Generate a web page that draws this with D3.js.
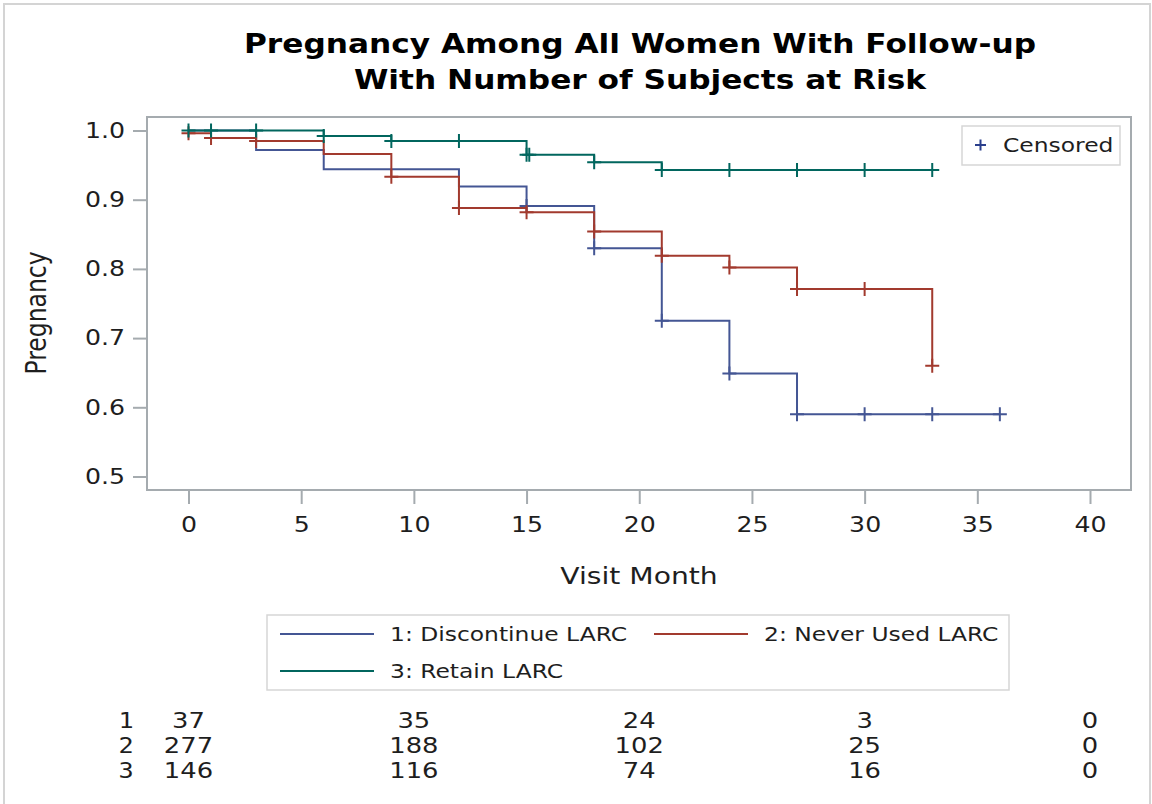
<!DOCTYPE html>
<html>
<head>
<meta charset="utf-8">
<script src="https://cdn.jsdelivr.net/npm/d3@7/dist/d3.min.js"></script>
<style>
  html, body { margin: 0; padding: 0; background: #fff; }
  svg { display: block; font-family: "DejaVu Sans", sans-serif; }
</style>
</head>
<body>
<svg id="chart" width="1152" height="804"></svg>
<script>
// Kaplan-Meier step estimates per group: event times and survival after each step
const groupNames = ["1: Discontinue LARC", "2: Never Used LARC", "3: Retain LARC"];
const groupColors = ["#445694", "#A23A2E", "#01665E"];

const discTimes = [0, 3, 6, 12, 15, 18, 21, 24, 27, 36];
const discSurv  = [1.0, 0.972, 0.944, 0.919, 0.891, 0.830, 0.725, 0.649, 0.590, 0.590];
const discCensor = [15, 18, 21, 24, 27, 30, 33, 36];

const neverTimes = [0, 1, 3, 6, 9, 12, 15, 18, 21, 24, 27, 33];
const neverSurv  = [0.996, 0.989, 0.985, 0.966, 0.933, 0.888, 0.882, 0.854, 0.819, 0.802, 0.771, 0.660];
const neverCensor = [0, 1, 3, 9, 12, 15, 18, 21, 24, 27, 30, 33];

const retainTimes = [0, 6, 9, 15, 18, 21, 33];
const retainSurv  = [1.0, 0.992, 0.985, 0.965, 0.954, 0.943, 0.943];
const retainCensor = [0, 1, 3, 6, 9, 12, 15, 15.12, 18, 21, 24, 27, 30, 33];

// Number at risk table
const riskMonths = [0, 10, 20, 30, 40];
const riskDisc   = [37, 35, 24, 3, 0];
const riskNever  = [277, 188, 102, 25, 0];
const riskRetain = [146, 116, 74, 16, 0];

const xTicks = [0, 5, 10, 15, 20, 25, 30, 35, 40];
const yTicks = [0.5, 0.6, 0.7, 0.8, 0.9, 1.0];

const series = [
  { times: discTimes, surv: discSurv, censor: discCensor, risk: riskDisc },
  { times: neverTimes, surv: neverSurv, censor: neverCensor, risk: riskNever },
  { times: retainTimes, surv: retainSurv, censor: retainCensor, risk: riskRetain }
];

const svg = d3.select("#chart");
const axisColor = "#A5ABAF";
const textColor = "#1e1e1e";
const WIDEN = 1.2;

// widen horizontal text glyphs
function widen(sel) {
  sel.each(function () {
    const w = this.getComputedTextLength();
    this.setAttribute("textLength", w * WIDEN);
    this.setAttribute("lengthAdjust", "spacingAndGlyphs");
  });
  return sel;
}

// outer border
svg.append("rect").attr("x", 4).attr("y", 4).attr("width", 1146).attr("height", 806)
  .attr("fill", "none").attr("stroke", "#D4D4D4").attr("stroke-width", 2);

const frame = { left: 147, right: 1131, top: 117, bottom: 490 };
const x = d3.scaleLinear().domain([0, 40]).range([188.5, 1090]);
const y = d3.scaleLinear().domain([0.5, 1.0]).range([476.5, 130.5]);

// title
const titleLines = ["Pregnancy Among All Women With Follow-up", "With Number of Subjects at Risk"];
titleLines.forEach((t, i) => {
  widen(svg.append("text").attr("x", 640).attr("y", 53 + i * 36).attr("text-anchor", "middle")
    .attr("font-weight", "bold").attr("font-size", 26).attr("fill", "#000").text(t));
});

// plot frame
svg.append("rect").attr("x", frame.left).attr("y", frame.top)
  .attr("width", frame.right - frame.left).attr("height", frame.bottom - frame.top)
  .attr("fill", "#fff").attr("stroke", axisColor).attr("stroke-width", 2);

// x axis
const xAxis = d3.axisBottom(x).tickValues(xTicks).tickSize(14).tickPadding(13).tickFormat(d3.format("d"));
const gx = svg.append("g").attr("transform", `translate(0,${frame.bottom})`).call(xAxis);
gx.select(".domain").remove();
gx.selectAll(".tick line").attr("stroke", axisColor).attr("stroke-width", 2);
widen(gx.selectAll(".tick text").attr("font-size", 21).attr("fill", textColor).attr("font-family", "DejaVu Sans"));

// y axis
const yAxis = d3.axisLeft(y).tickValues(yTicks).tickSize(14).tickPadding(8).tickFormat(d3.format(".1f"));
const gy = svg.append("g").attr("transform", `translate(${frame.left},0)`).call(yAxis);
gy.select(".domain").remove();
gy.selectAll(".tick line").attr("stroke", axisColor).attr("stroke-width", 2);
widen(gy.selectAll(".tick text").attr("font-size", 21).attr("fill", textColor).attr("font-family", "DejaVu Sans"));

// axis labels
widen(svg.append("text").attr("x", 639).attr("y", 584).attr("text-anchor", "middle")
  .attr("font-size", 23.5).attr("fill", textColor).text("Visit Month"));
svg.append("text").attr("transform", `translate(46,313) scale(${WIDEN},1) rotate(-90)`).attr("text-anchor", "middle")
  .attr("font-size", 23.5).attr("fill", textColor).text("Pregnancy");

// survival value at time t (step function)
function survAt(s, t) {
  let v = s.surv[0];
  for (let i = 0; i < s.times.length; i++) if (s.times[i] <= t + 1e-9) v = s.surv[i];
  return v;
}

const line = d3.line().x(d => x(d[0])).y(d => y(d[1])).curve(d3.curveStepAfter);
const plot = svg.append("g");

series.forEach((s, i) => {
  const pts = s.times.map((t, j) => [t, s.surv[j]]);
  plot.append("path").attr("d", line(pts)).attr("fill", "none")
    .attr("stroke", groupColors[i]).attr("stroke-width", 2);
  const hw = 7, hh = 7;
  plot.append("g").selectAll("path").data(s.censor).join("path")
    .attr("d", t => {
      const cx = x(t), cy = y(survAt(s, t));
      return `M${cx - hw},${cy}H${cx + hw}M${cx},${cy - hh}V${cy + hh}`;
    })
    .attr("stroke", groupColors[i]).attr("stroke-width", 2).attr("fill", "none");
});

// censored legend
svg.append("rect").attr("x", 962).attr("y", 126).attr("width", 158).attr("height", 39)
  .attr("fill", "#fff").attr("stroke", "#D6D6D6").attr("stroke-width", 1.5);
svg.append("path").attr("d", "M975,145H986M980.5,139.5V150.5").attr("stroke", "#2A3E8C").attr("stroke-width", 2);
widen(svg.append("text").attr("x", 1003).attr("y", 152).attr("font-size", 19.5).attr("fill", textColor).text("Censored"));

// group legend
svg.append("rect").attr("x", 267).attr("y", 615).attr("width", 742).attr("height", 75)
  .attr("fill", "#fff").attr("stroke", "#D6D6D6").attr("stroke-width", 1.5);
const legendPos = [[280, 634], [654, 634], [280, 671]];
groupNames.forEach((name, i) => {
  const [lx, ly] = legendPos[i];
  svg.append("line").attr("x1", lx).attr("x2", lx + 94).attr("y1", ly).attr("y2", ly)
    .attr("stroke", groupColors[i]).attr("stroke-width", 2);
  widen(svg.append("text").attr("x", lx + 110).attr("y", ly + 7).attr("font-size", 19.5)
    .attr("fill", textColor).text(name));
});

// number at risk table
const rowY = [720, 745, 770];
series.forEach((s, i) => {
  widen(svg.append("text").attr("x", 126).attr("y", rowY[i] + 8).attr("text-anchor", "middle")
    .attr("font-size", 21).attr("font-family", "DejaVu Sans Mono").attr("fill", textColor).text(i + 1));
  widen(svg.append("g").selectAll("text").data(riskMonths).join("text")
    .attr("x", d => x(d)).attr("y", rowY[i] + 8).attr("text-anchor", "middle")
    .attr("font-size", 21.5).attr("fill", textColor)
    .text((d, j) => s.risk[j]));
});
</script>
</body>
</html>
